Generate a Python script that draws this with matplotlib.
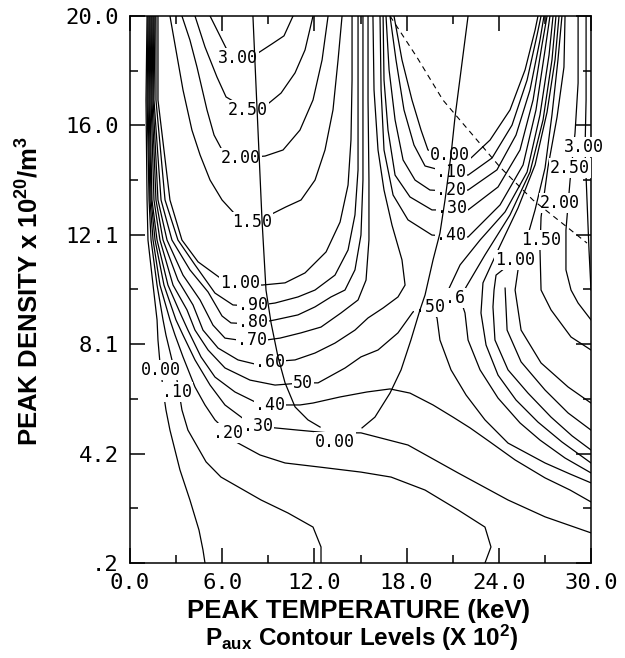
import numpy as np
import matplotlib
matplotlib.use("Agg")
import matplotlib.pyplot as plt

plt.rcParams["mathtext.fontset"] = "custom"
plt.rcParams["mathtext.rm"] = "Liberation Sans:bold"
plt.rcParams["mathtext.it"] = "Liberation Sans:bold"
plt.rcParams["mathtext.bf"] = "Liberation Sans:bold"
plt.rcParams["mathtext.default"] = "rm"

# P_aux contours: T = peak temperature (keV), n = peak density (1e20/m3)
c000_T = [1.11, 1.04, 1.11, 1.17, 1.50, 1.76, 1.82, 1.95, 2.02, 2.15, 2.34, 2.60, 3.25, 3.90, 4.49, 4.75, 4.88]
c000_n = [20.0, 16.96, 13.34, 11.89, 10.26, 9.00, 8.27, 7.44, 7.19, 6.46, 5.74, 5.01, 3.57, 2.48, 1.39, 0.67, 0.2]
c010_T = [1.17, 1.11, 1.24, 1.37, 1.76, 2.15, 2.34, 2.73, 3.06, 3.19, 3.38, 3.77, 4.95, 5.92, 8.53, 10.28, 11.91, 12.43, 12.43]
c010_n = [20.0, 16.96, 13.34, 11.89, 10.26, 9.00, 8.45, 7.55, 6.82, 6.39, 5.74, 5.01, 3.86, 3.31, 2.48, 2.01, 1.50, 0.78, 0.2]
c020_T = [1.24, 1.17, 1.30, 1.50, 1.95, 2.60, 2.93, 3.45, 4.23, 4.88, 5.53, 6.38, 6.90, 8.46, 10.09, 12.37, 15.03, 16.99, 19.20, 21.35, 23.10, 23.49, 23.10]
c020_n = [20.0, 16.96, 13.34, 11.89, 10.26, 9.00, 8.45, 7.66, 6.57, 5.92, 5.38, 4.91, 4.58, 4.11, 3.82, 3.67, 3.49, 3.31, 2.84, 2.12, 1.50, 0.78, 0.2]
c030_T = [1.30, 1.24, 1.37, 1.63, 2.21, 2.99, 3.45, 4.23, 5.21, 6.18, 7.48, 8.33, 9.44, 10.93, 12.89, 15.03, 18.09, 21.35, 24.60, 27.01, 30.0]
c030_n = [20.0, 16.96, 13.34, 11.89, 10.26, 9.00, 8.45, 7.55, 6.64, 5.92, 5.38, 5.16, 5.09, 5.01, 4.91, 4.91, 4.47, 3.46, 2.48, 1.87, 1.29]
c040_T = [1.37, 1.30, 1.43, 1.76, 2.47, 3.32, 3.77, 4.62, 5.53, 6.83, 8.14, 9.11, 11.06, 11.91, 13.67, 15.42, 16.92, 18.22, 19.72, 21.02, 22.13, 23.43, 25.06, 27.01, 28.64, 30.0]
c040_n = [20.0, 16.96, 13.34, 11.89, 10.26, 9.18, 8.63, 7.66, 6.93, 6.39, 6.03, 5.92, 5.92, 5.99, 6.21, 6.39, 6.50, 6.35, 5.92, 5.48, 5.09, 4.58, 3.93, 3.28, 2.84, 2.41]
c050_T = [1.43, 1.37, 1.56, 1.95, 2.80, 3.71, 4.23, 5.08, 6.18, 7.81, 9.44, 11.26, 12.24, 14.00, 15.03, 16.14, 17.44, 18.42, 19.52, 19.98, 20.17, 20.89, 21.87, 23.10, 24.60, 27.01, 28.64, 30.0]
c050_n = [20.0, 16.96, 13.34, 11.89, 10.26, 9.36, 8.63, 7.91, 7.26, 6.82, 6.64, 6.72, 6.72, 7.26, 7.66, 7.91, 8.53, 9.29, 9.47, 9.07, 8.27, 7.19, 6.28, 5.38, 4.54, 3.82, 3.42, 3.10]
c060_T = [1.50, 1.43, 1.69, 2.15, 3.12, 4.10, 4.75, 5.73, 7.03, 8.14, 9.11, 10.74, 12.04, 13.34, 14.64, 15.49, 16.47, 17.44, 17.90, 17.70, 17.05, 16.53, 16.14, 15.88, 15.81]
c060_n = [20.0, 16.96, 13.34, 11.89, 10.44, 9.54, 8.63, 7.98, 7.55, 7.40, 7.48, 7.55, 7.80, 8.16, 8.63, 9.07, 9.43, 9.83, 10.26, 11.17, 12.43, 13.70, 15.15, 17.32, 20.0]
c070_T = [1.56, 1.50, 1.82, 2.41, 3.45, 4.56, 5.40, 6.18, 7.94, 9.76, 11.13, 12.43, 13.73, 14.84, 15.36, 15.55, 15.55, 15.49, 15.49]
c070_n = [20.0, 16.96, 13.34, 11.89, 10.62, 9.72, 8.81, 8.34, 8.20, 8.34, 8.53, 8.74, 9.25, 9.72, 10.44, 11.89, 14.06, 16.96, 20.0]
c080_T = [1.63, 1.56, 2.02, 2.73, 3.90, 5.08, 5.99, 6.57, 8.00, 9.44, 10.93, 12.04, 13.08, 13.99, 14.64, 15.03, 15.16, 15.16, 15.16]
c080_n = [20.0, 16.96, 13.34, 11.89, 10.81, 10.01, 9.14, 8.89, 8.85, 9.00, 9.18, 9.47, 9.83, 10.08, 10.81, 12.07, 14.06, 16.96, 20.0]
c090_T = [1.69, 1.69, 2.28, 3.12, 4.23, 5.53, 6.70, 8.00, 9.44, 10.93, 12.04, 13.34, 14.19, 14.64, 14.84, 14.84, 14.84]
c090_n = [20.0, 16.96, 13.34, 11.89, 10.99, 9.97, 9.54, 9.50, 9.61, 9.83, 10.08, 10.62, 11.53, 12.80, 14.43, 16.96, 20.0]
c100_T = [1.82, 1.82, 2.60, 3.38, 4.43, 5.86, 7.16, 8.59, 10.09, 11.39, 12.76, 13.67, 14.19, 14.38, 14.45, 14.45]
c100_n = [20.0, 16.96, 13.34, 11.89, 11.10, 10.52, 10.34, 10.26, 10.34, 10.70, 11.46, 12.54, 13.88, 15.51, 17.68, 20.0]
c150_T = [2.60, 2.99, 3.45, 4.03, 4.56, 5.21, 5.99, 6.83, 7.94, 9.11, 10.15, 11.13, 12.04, 12.69, 13.21, 13.54, 13.80]
c150_n = [20.0, 18.77, 17.32, 15.87, 14.97, 14.06, 13.34, 12.83, 12.54, 12.80, 13.09, 13.34, 14.06, 15.15, 16.60, 18.41, 20.0]
c200_T = [3.38, 3.90, 4.36, 5.01, 5.47, 5.99, 7.22, 8.79, 9.96, 11.06, 11.91, 12.50, 12.89]
c200_n = [20.0, 19.13, 18.15, 16.60, 15.69, 15.15, 14.86, 14.93, 15.15, 15.87, 16.96, 18.41, 20.0]
c250_T = [4.23, 4.88, 5.66, 6.25, 7.68, 8.98, 9.83, 10.74, 11.39, 11.91]
c250_n = [20.0, 18.88, 17.79, 17.07, 16.60, 16.82, 17.21, 17.94, 18.77, 20.0]
c300_T = [5.21, 5.73, 6.25, 7.03, 8.14, 9.24, 10.02, 10.61]
c300_n = [20.0, 19.42, 18.84, 18.48, 18.59, 18.99, 19.28, 20.0]

# right-hand valley
b000_T = [17.18, 17.70, 18.35, 18.94, 19.39, 20.83, 22.19, 23.43, 24.73, 25.71, 26.36, 26.55]
b000_n = [20.0, 18.41, 16.96, 15.87, 15.15, 14.93, 14.86, 15.51, 16.60, 18.05, 19.49, 20.0]
b010_T = [16.92, 17.31, 17.83, 18.48, 19.20, 20.89, 22.00, 23.56, 24.86, 25.84, 26.49, 26.75]
b010_n = [20.0, 18.41, 16.60, 15.33, 14.57, 14.32, 14.24, 14.86, 16.05, 17.68, 19.31, 20.0]
b020_T = [16.66, 16.86, 17.25, 17.77, 18.55, 19.52, 20.89, 22.00, 23.88, 25.12, 26.03, 26.68, 26.94]
b020_n = [20.0, 18.05, 16.24, 14.79, 14.06, 13.70, 13.66, 13.70, 14.43, 15.69, 17.32, 19.13, 20.0]
b030_T = [16.47, 16.53, 16.79, 17.25, 18.22, 19.65, 20.96, 22.00, 23.95, 25.38, 26.23, 26.81, 27.14]
b030_n = [20.0, 17.68, 15.87, 14.24, 13.45, 12.98, 12.98, 12.98, 13.81, 15.15, 16.96, 18.95, 20.0]
b040_T = [16.27, 16.34, 16.53, 17.12, 18.09, 19.65, 20.89, 22.00, 24.08, 25.58, 26.42, 27.01, 27.33]
b040_n = [20.0, 17.32, 15.15, 13.52, 12.62, 12.07, 12.03, 12.00, 13.16, 14.61, 16.60, 18.77, 20.0]
u050_T = [20.50, 21.48, 22.78, 24.41, 25.84, 26.68, 27.27, 27.53]
u050_n = [9.83, 10.99, 11.89, 12.91, 14.35, 16.42, 18.59, 20.0]
r060_T = [27.72, 27.46, 26.88, 26.03, 24.73, 23.10, 21.87, 21.48, 21.80, 22.00, 22.78, 23.95, 25.38, 26.68, 28.31, 30.0]
r060_n = [20.0, 18.41, 16.24, 14.35, 12.80, 11.35, 10.19, 9.79, 9.25, 8.27, 7.19, 6.17, 5.27, 4.65, 4.00, 3.46]
r070_T = [27.92, 27.66, 27.14, 26.36, 25.25, 23.95, 22.97, 22.84, 23.17, 23.95, 25.12, 26.55, 28.11, 30.0]
r070_n = [20.0, 18.41, 16.52, 14.61, 13.05, 11.53, 10.34, 9.25, 8.09, 7.00, 6.10, 5.30, 4.58, 3.82]
r100_T = [28.11, 27.85, 27.46, 27.01, 26.36, 25.71, 25.06, 23.82, 23.69, 23.62, 23.75, 24.60, 25.90, 27.40, 28.77, 30.0]
r100_n = [20.0, 18.41, 16.42, 14.50, 12.98, 11.71, 11.17, 10.62, 10.08, 9.47, 8.27, 7.19, 6.35, 5.48, 4.80, 4.29]
r120_T = [24.41, 24.54, 25.45, 27.01, 28.51, 30.0]
r120_n = [10.15, 8.63, 7.48, 6.46, 5.63, 5.01]
r130_T = [25.25, 25.06, 25.45, 26.75, 28.51, 30.0]
r130_n = [10.81, 10.08, 8.63, 7.44, 6.57, 5.99]
r150_T = [28.31, 28.24, 27.79, 27.20, 26.75, 26.68, 26.75, 27.40, 28.70, 30.0]
r150_n = [20.0, 18.15, 16.34, 14.53, 12.72, 11.53, 10.08, 9.36, 8.38, 7.91]
r200_T = [29.16, 29.16, 28.96, 28.64, 28.37, 28.37, 28.70, 29.16, 30.0]
r200_n = [20.0, 17.57, 15.76, 14.06, 12.25, 10.81, 10.08, 9.61, 9.00]
r250_T = [29.68, 29.68, 29.61, 29.74, 29.87, 30.0]
r250_n = [20.0, 16.96, 15.15, 13.34, 11.53, 10.08]

# the two steep solid curves forming the V, and the dashed curve
vleft_T = [8.00, 8.27, 8.59, 8.85, 9.18, 9.63, 10.09, 10.74, 11.58, 12.37]
vleft_n = [20.0, 16.60, 12.62, 10.08, 8.89, 7.66, 6.72, 5.85, 5.38, 5.12]
vright_T = [22.00, 21.15, 20.89, 20.50, 20.17, 19.72, 19.20, 18.87, 18.28, 17.64, 16.92, 15.94, 15.10]
vright_n = [20.0, 16.34, 14.97, 13.34, 12.14, 11.17, 9.90, 9.36, 8.27, 7.19, 6.35, 5.48, 5.09]
dash_T = [16.92, 18.67, 20.36, 22.58, 24.08, 26.22, 28.44, 29.74]
dash_n = [20.0, 18.51, 16.96, 15.51, 14.53, 13.34, 12.36, 11.78]

# contour labels
lab_text = ["3.00", "2.50", "2.00", "1.50", "1.00", ".90", ".80", ".70", ".60", "50", ".40", ".30", ".20",
            "0.00", ".10", "0.00",
            "0.00", ".10", ".20", ".30", ".40", ".50", ".6",
            "1.00", "1.50", "2.00", "2.50", "3.00"]
lab_T = [7.03, 7.68, 7.22, 7.94, 7.16, 8.00, 8.00, 7.94, 9.11, 11.26, 9.11, 8.33, 6.38,
         2.02, 3.06, 13.34,
         20.83, 20.89, 20.89, 20.96, 20.89, 19.52, 21.15,
         25.06, 26.75, 27.98, 28.64, 29.55]
lab_n = [18.48, 16.60, 14.86, 12.54, 10.34, 9.54, 8.92, 8.27, 7.48, 6.72, 5.92, 5.16, 4.91,
         7.19, 6.39, 4.58,
         14.97, 14.35, 13.70, 13.05, 12.07, 9.47, 9.79,
         11.17, 11.89, 13.23, 14.50, 15.26]

xticks = [0, 6, 12, 18, 24, 30]
xtick_labels = ["0.0", "6.0", "12.0", "18.0", "24.0", "30.0"]
yticks = [0.2, 4.16, 8.12, 12.08, 16.04, 20.0]
ytick_labels = [".2", "4.2", "8.1", "12.1", "16.0", "20.0"]

curves = [(c000_T, c000_n), (c010_T, c010_n), (c020_T, c020_n), (c030_T, c030_n),
          (c040_T, c040_n), (c050_T, c050_n), (c060_T, c060_n), (c070_T, c070_n),
          (c080_T, c080_n), (c090_T, c090_n), (c100_T, c100_n), (c150_T, c150_n),
          (c200_T, c200_n), (c250_T, c250_n), (c300_T, c300_n),
          (b000_T, b000_n), (b010_T, b010_n), (b020_T, b020_n), (b030_T, b030_n),
          (b040_T, b040_n), (u050_T, u050_n), (r060_T, r060_n), (r070_T, r070_n),
          (r100_T, r100_n), (r120_T, r120_n), (r130_T, r130_n), (r150_T, r150_n),
          (r200_T, r200_n), (r250_T, r250_n)]

fig = plt.figure(figsize=(6.25, 6.58), dpi=100)
ax = fig.add_axes([0.208, 0.1444, 0.7376, 0.8313])

for T, n in curves:
    ax.plot(T, n, color="black", lw=0.9, zorder=2, solid_joinstyle="round")

for s, T, n in zip(lab_text, lab_T, lab_n):
    ax.text(T, n, s, ha="center", va="center", family="DejaVu Sans Mono", fontsize=12,
            bbox=dict(facecolor="white", edgecolor="none", pad=0.6), zorder=3, clip_on=False)

ax.plot(vleft_T, vleft_n, color="black", lw=0.9, zorder=4)
ax.plot(vright_T, vright_n, color="black", lw=0.9, zorder=4)
ax.plot(dash_T, dash_n, color="black", lw=0.8, ls=(0, (5, 4)), zorder=4)

ax.set_xlim(0, 30)
ax.set_ylim(0.2, 20.0)
ax.set_xticks(xticks)
ax.set_xticklabels(xtick_labels)
ax.set_yticks(yticks)
ax.set_yticklabels(ytick_labels)
ax.set_xticks([3, 9, 15, 21, 27], minor=True)
ax.set_yticks([2.18, 6.14, 10.1, 14.06, 18.02], minor=True)
ax.tick_params(which="both", direction="in", top=True, right=True, width=1.1, color="black")
ax.tick_params(which="major", length=11)
ax.tick_params(which="minor", length=6)
ax.tick_params(axis="x", pad=7)
ax.tick_params(axis="y", pad=8)
for lab in ax.get_xticklabels() + ax.get_yticklabels():
    lab.set_family("DejaVu Sans Mono")
    lab.set_fontsize(16)
for sp in ax.spines.values():
    sp.set_linewidth(1.1)

fig.text(0.048, 0.558, r"PEAK DENSITY x 10$^{20}$/m$^{3}$", rotation=90, ha="center", va="center",
         family="Liberation Sans", fontweight="bold", fontsize=18.5)
fig.text(0.574, 0.0714, "PEAK TEMPERATURE (keV)", ha="center", va="center",
         family="Liberation Sans", fontweight="bold", fontsize=18.5)
fig.text(0.578, 0.030, r"P$_{aux}$ Contour Levels (X 10$^{2}$)", ha="center", va="center",
         family="Liberation Sans", fontweight="bold", fontsize=17.5)

fig.savefig("out.png", dpi=100)
